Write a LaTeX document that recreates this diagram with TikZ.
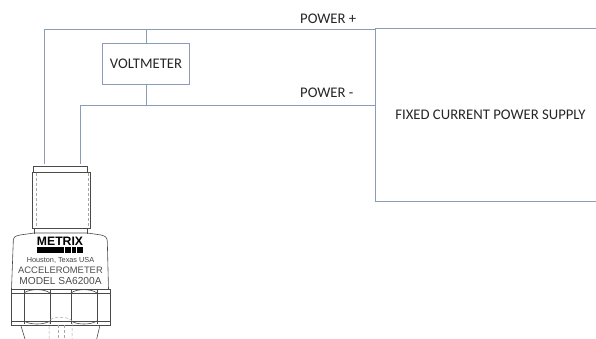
\documentclass[tikz,border=0pt]{standalone}
\usepackage{fontspec}
\setmainfont{Carlito}
\newfontfamily\plate{Liberation Sans}
\definecolor{wire}{HTML}{8A9DB8}
\definecolor{ink}{HTML}{4A4A4A}
\tikzset{
  wireline/.style={draw=wire,line width=0.9pt},
  partline/.style={draw=ink,line width=0.6pt},
  hidden/.style={draw=black!35,line width=0.5pt,densely dashed},
  lab/.style={inner sep=0pt,text=black!85,font=\fontsize{14.7}{16}\selectfont},
  platetext/.style={inner sep=0pt,text=black!70}
}
\begin{document}
\begin{tikzpicture}[x=1pt,y=-1pt]
\useasboundingbox (0,0) rectangle (596,339);
% supply (open at the right edge)
\coordinate (stl) at (375.5,28.7);
\coordinate (sbl) at (375.5,201.3);
\draw[wireline] (596,28.7) -- (stl) -- (sbl) -- (596,201.3);
\node[lab] (supply) at (490.5,114.5) {FIXED CURRENT POWER SUPPLY};
% voltmeter
\node[wireline,minimum width=87pt,minimum height=41pt,inner sep=0pt,lab] (volt) at (146,63.5) {VOLTMETER};
% wiring
\coordinate (plusL) at (44.5,164);
\coordinate (minusL) at (80.3,164);
\coordinate (plusT) at (44.5,29.3);
\coordinate (minusT) at (80.3,105.5);
\coordinate (plusJ) at (146.5,29.3);
\coordinate (minusJ) at (146.5,105.5);
\coordinate (plusR) at (375.5,29.3);
\coordinate (minusR) at (375.5,105.5);
\draw[wireline] (plusL) -- (plusT) -- (plusR);
\draw[wireline] (minusL) -- (minusT) -- (minusR);
\draw[wireline] (plusJ) -- (volt.north -| plusJ);
\draw[wireline] (volt.south -| minusJ) -- (minusJ);
\node[lab,anchor=west] (pp) at (300,19) {POWER +};
\node[lab,anchor=west] (pm) at (300,92.5) {POWER -};
% accelerometer
\draw[partline] (33.7,172.7) -- (33.7,166) -- (87.7,166) -- (87.7,172.7);
\draw[partline] (32.7,172.7) rectangle (90.7,228);
\draw[hidden] (36,173) -- (36,228) (88,173) -- (88,228);
\draw[partline] (34.3,228) -- (34.3,233.5) (87.3,228) -- (87.3,233.5);
\draw[partline] (11.5,289.3) -- (13.3,241) .. controls (13.5,237) and (15,236) .. (20,235)
  -- (34.3,233) -- (87.3,233) -- (101,235) .. controls (105,236) and (107,237) .. (107.3,241) -- (108.5,289.3);
\draw[partline] (11,289.3) rectangle (110,325);
\draw[partline] (11,293) -- (110,293) (11,321) -- (110,321);
\draw[partline] (24,290) -- (24,324) (50,290) -- (50,324) (71,290) -- (71,324) (97,290) -- (97,324);
\draw[partline] (24,293) .. controls (30,288.5) and (44,288.5) .. (50,293);
\draw[partline] (71,293) .. controls (77,288.5) and (91,288.5) .. (97,293);
\draw[partline] (24,321) .. controls (30,325) and (44,325) .. (50,321);
\draw[partline] (71,321) .. controls (77,325) and (91,325) .. (97,321);
\draw[partline] (20.7,325) -- (25,339) (100,325) -- (96.7,339);
\draw[hidden] (49,339) -- (49,321) .. controls (53,316) and (68,316) .. (72,321) -- (72,339);
\draw[hidden] (58,325) -- (58,339) (64,325) -- (64,339);
\node[inner sep=0pt,font=\plate\bfseries\fontsize{12.2}{13}\selectfont] (brand) at (60,241) {METRIX};
\fill[black] (37,247.3) rectangle (64,252.5);
\fill[black] (64.7,247.3) rectangle (71,252.5);
\fill[black] (71.7,247.3) rectangle (76,252.5);
\fill[black] (76.7,247.3) rectangle (83,252.5);
\node[inner sep=0pt,text=black!75,font=\plate\fontsize{7.3}{8}\selectfont] (city) at (60.5,260.3) {Houston, Texas USA};
\node[platetext,font=\plate\fontsize{9.4}{10}\selectfont] (acc) at (60.5,270.5) {ACCELEROMETER};
\node[platetext,font=\plate\fontsize{10.2}{11}\selectfont] (mod) at (60.5,280.5) {MODEL SA6200A};
\end{tikzpicture}
\end{document}
